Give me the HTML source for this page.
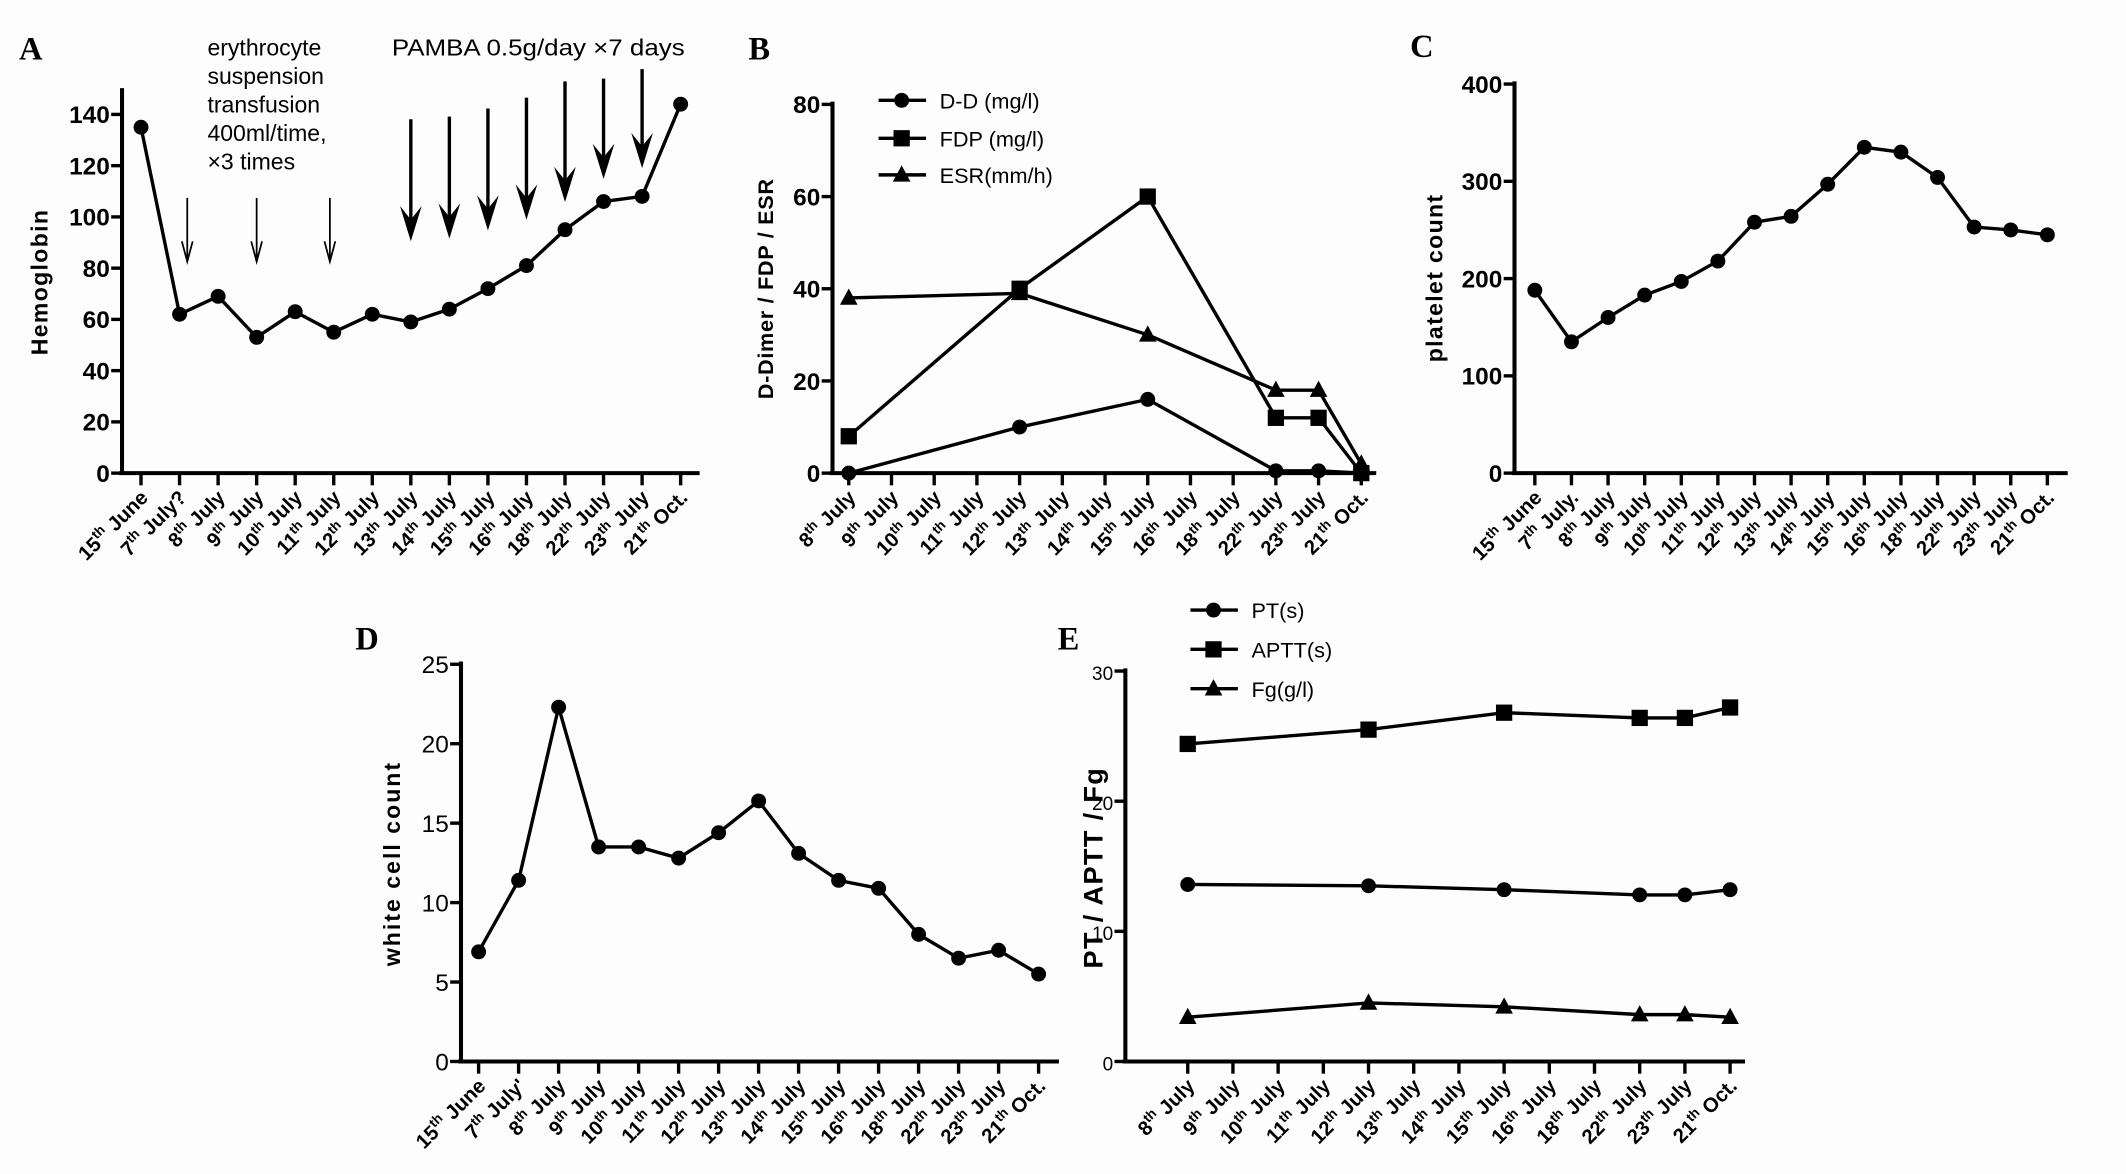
<!DOCTYPE html>
<html><head><meta charset="utf-8"><style>
html,body{margin:0;padding:0;background:#fdfdfd;}
svg{display:block;}
text{font-family:"Liberation Sans",sans-serif;fill:#000;}
</style></head><body>
<svg id="fig" width="2126" height="1174" viewBox="0 0 1568 866" preserveAspectRatio="none" xmlns="http://www.w3.org/2000/svg">
<rect width="1568" height="866" fill="#fdfdfd"/>
</svg>
<script>
// ---- data ----
const labelsA = [["15","th","June"],["7","th","July?"],["8","th","July"],["9","th","July"],["10","th","July"],["11","th","July"],["12","th","July"],["13","th","July"],["14","th","July"],["15","th","July"],["16","th","July"],["18","th","July"],["22","th","July"],["23","th","July"],["21","th","Oct."]];
const labelsC = [["15","th","June"],["7","th","July."],["8","th","July"],["9","th","July"],["10","th","July"],["11","th","July"],["12","th","July"],["13","th","July"],["14","th","July"],["15","th","July"],["16","th","July"],["18","th","July"],["22","th","July"],["23","th","July"],["21","th","Oct."]];
const labelsB = [["8","th","July"],["9","th","July"],["10","th","July"],["11","th","July"],["12","th","July"],["13","th","July"],["14","th","July"],["15","th","July"],["16","th","July"],["18","th","July"],["22","th","July"],["23","th","July"],["21","th","Oct."]];
const hemoglobin = [135,62,69,53,63,55,62,59,64,72,81,95,106,108,144];
const platelet = [188,135,160,183,197,218,258,264,297,335,330,304,253,250,245];
const wbc = [6.9,11.4,22.3,13.5,13.5,12.8,14.4,16.4,13.1,11.4,10.9,8.0,6.5,7.0,5.5];
const idxB = [0,4,7,10,11,12];
const dd = [0,10,16,0.5,0.5,0];
const fdp = [8,40,60,12,12,0];
const esr = [38,39,30,18,18,2];
const pt = [13.6,13.5,13.2,12.8,12.8,13.2];
const aptt = [24.4,25.5,26.8,26.4,26.4,27.2];
const fg = [3.4,4.5,4.2,3.6,3.6,3.4];
const ticksA = [0,20,40,60,80,100,120,140];
const ticksB = [0,20,40,60,80];
const ticksC = [0,100,200,300,400];
const ticksD = [0,5,10,15,20,25];
const ticksE = [0,10,20,30];
const thinArrowsIdx = [1.2,3,4.9];
const thickArrowsIdx = [7,8,9,10,11,12,13];
const thickArrowTops = [88,86,80,72,60,58,51];
const thickArrowTips = [178,176,170,162,149,132,124];

const NS="http://www.w3.org/2000/svg";
const svg=document.getElementById('fig');
function el(tag,attrs,parent){const e=document.createElementNS(NS,tag);for(const k in attrs)e.setAttribute(k,attrs[k]);(parent||svg).appendChild(e);return e;}

function makeAxes(p){
  const g=el('g',{});
  
  
  const n=p.labels.length;
  const xs=i=>p.x0+(p.x1-p.x0)*i/(n-1);
  const ys=v=>p.yb-(p.yb-p.yt)*v/p.ymax;
  const ax=el('line',{x1:p.ax,y1:p.axTop,x2:p.ax,y2:p.yb,stroke:'#000','stroke-width':3},g);
  
  
  const bx=el('line',{x1:p.ax-2,y1:p.yb,x2:p.axRight,y2:p.yb,stroke:'#000','stroke-width':3},g);
  
  
  p.ticks.forEach(t=>{
    el('line',{x1:p.ax-8,y1:ys(t),x2:p.ax,y2:ys(t),stroke:'#000','stroke-width':2.5},g);
    const tx=el('text',{x:p.ax-9,y:ys(t)+6.5,'text-anchor':'end','font-size':p.tfs,'font-weight':p.tfw},g);
    tx.textContent=t;
    
    
  });
  p.labels.forEach((l,i)=>{
    const x=xs(i);
    el('line',{x1:x,y1:p.yb,x2:x,y2:p.yb+9,stroke:'#000','stroke-width':2.5},g);
    const t=el('text',{x:0,y:0,'text-anchor':'end','font-size':15,'font-weight':'bold',transform:`translate(${x+6},${p.yb+19}) rotate(-45)`},g);
    
    
    const a=el('tspan',{},t);a.textContent=l[0];
    const b=el('tspan',{'font-size':10,dy:-6},t);b.textContent=l[1];
    const c=el('tspan',{dy:6},t);c.textContent=' '+l[2];
  });
  const yl=el('text',{x:0,y:0,'text-anchor':'middle','font-size':p.yfs,'font-weight':'bold',transform:`translate(${p.ylx},${p.yly}) rotate(-90)`,'letter-spacing':p.yls||0},g);
  yl.textContent=p.ylabel;
  
  
  const pl=el('text',{x:p.px,y:p.py,'font-size':24,'font-weight':'bold',style:'font-family:"Liberation Serif",serif'},g);
  pl.textContent=p.panel;
  
  
  return {g,xs,ys};
}
function marker(g,type,x,y,s){
  let m;
  if(type==='circle') m=el('circle',{cx:x,cy:y,r:s||5.5,fill:'#000'},g);
  else if(type==='square') m=el('rect',{x:x-6,y:y-6,width:12,height:12,fill:'#000'},g);
  else m=el('polygon',{points:`${x},${y-7} ${x-6.5},${y+5} ${x+6.5},${y+5}`,fill:'#000'},g);
  return m;
}
function series(ax,idx,vals,type,name){
  const pts=vals.map((v,i)=>[ax.xs(idx?idx[i]:i),ax.ys(v)]);
  const pl=el('polyline',{points:pts.map(p=>p.join(',')).join(' '),fill:'none',stroke:'#000','stroke-width':2.5},ax.g);
  
  
  pts.forEach(p=>{const m=marker(ax.g,type,p[0],p[1]);
    
    });
}
function legend(g,x,y,type,label,name){
  el('line',{x1:x,y1:y,x2:x+35,y2:y,stroke:'#000','stroke-width':2.5},g);
  marker(g,type,x+17,y);
  const t=el('text',{x:x+45,y:y+6,'font-size':16},g);t.textContent=label;
  
  
}

// Panel A
const A=makeAxes({name:'hemoglobin-chart',labels:labelsA,x0:104,x1:502,ax:90,axTop:65,axRight:516,yb:349,yt:84.4,ymax:140,ticks:ticksA,tfs:18,tfw:'bold',ylabel:'Hemoglobin',ylx:35,yly:208,yfs:17,yls:1,panel:'A',px:14,py:44});
series(A,null,hemoglobin,'circle','hemoglobin');
thinArrowsIdx.forEach(i=>{const x=A.xs(i);
  const a=el('line',{x1:x,y1:146,x2:x,y2:190,stroke:'#000','stroke-width':1.3},A.g);
  
  
  el('path',{d:`M${x-4},${178} L${x},${193} L${x+4},${178}`,fill:'none',stroke:'#000','stroke-width':1.3},A.g);});
thickArrowsIdx.forEach((i,k)=>{const x=A.xs(i);const top=thickArrowTops[k],tip=thickArrowTips[k];
  const a=el('line',{x1:x,y1:top,x2:x,y2:tip-12,stroke:'#000','stroke-width':2.5},A.g);
  
  
  el('path',{d:`M${x-8},${tip-26} L${x},${tip} L${x+8},${tip-26} L${x},${tip-16} Z`,fill:'#000'},A.g);});
["erythrocyte","suspension","transfusion","400ml/time,","×3 times"].forEach((s,i)=>{
  const t=el('text',{x:153,y:41+i*21,'font-size':17},A.g);t.textContent=s;
  
  });
const pa=el('text',{x:289,y:41,'font-size':17,textLength:216,lengthAdjust:'spacingAndGlyphs'},A.g);pa.textContent='PAMBA 0.5g/day ×7 days';



// Panel B
const B=makeAxes({name:'ddimer-fdp-esr-chart',labels:labelsB,x0:626,x1:1004,ax:614,axTop:75,axRight:1015,yb:349,yt:77,ymax:80,ticks:ticksB,tfs:18,tfw:'bold',ylabel:'D-Dimer / FDP / ESR',ylx:570,yly:213,yfs:16,yls:0.5,panel:'B',px:552,py:44});
series(B,idxB,dd,'circle','dd');
series(B,idxB,fdp,'square','fdp');
series(B,idxB,esr,'triangle','esr');
legend(B.g,648,74,'circle','D-D (mg/l)','legend-dd');
legend(B.g,648,102,'square','FDP (mg/l)','legend-fdp');
legend(B.g,648,129,'triangle','ESR(mm/h)','legend-esr');

// Panel C
const C=makeAxes({name:'platelet-chart',labels:labelsC,x0:1132,x1:1510,ax:1117,axTop:60,axRight:1525,yb:349,yt:62,ymax:400,ticks:ticksC,tfs:18,tfw:'bold',ylabel:'platelet count',ylx:1064,yly:205,yfs:17,yls:1,panel:'C',px:1040,py:42});
series(C,null,platelet,'circle','platelet');

// Panel D
const D=makeAxes({name:'white-cell-chart',labels:labelsA.map((l,i)=>i==1?["7","th","July'"]:l),x0:353,x1:766,ax:340,axTop:488,axRight:781,yb:783,yt:490,ymax:25,ticks:ticksD,tfs:18,tfw:'normal',ylabel:'white cell count',ylx:295,yly:637,yfs:17,yls:1.5,panel:'D',px:262,py:479});
series(D,null,wbc,'circle','wbc');

// Panel E
const E=makeAxes({name:'pt-aptt-fg-chart',labels:labelsB,x0:876,x1:1276,ax:830,axTop:493,axRight:1287,yb:783,yt:495,ymax:30,ticks:ticksE,tfs:14,tfw:'normal',ylabel:'PT / APTT / Fg',ylx:813,yly:640,yfs:20,yls:1,panel:'E',px:780,py:479});
series(E,idxB,pt,'circle','pt');
series(E,idxB,aptt,'square','aptt');
series(E,idxB,fg,'triangle','fg');
legend(E.g,878,450,'circle','PT(s)','legend-pt');
legend(E.g,878,479,'square','APTT(s)','legend-aptt');
legend(E.g,878,508,'triangle','Fg(g/l)','legend-fg');
</script>
</body></html>
